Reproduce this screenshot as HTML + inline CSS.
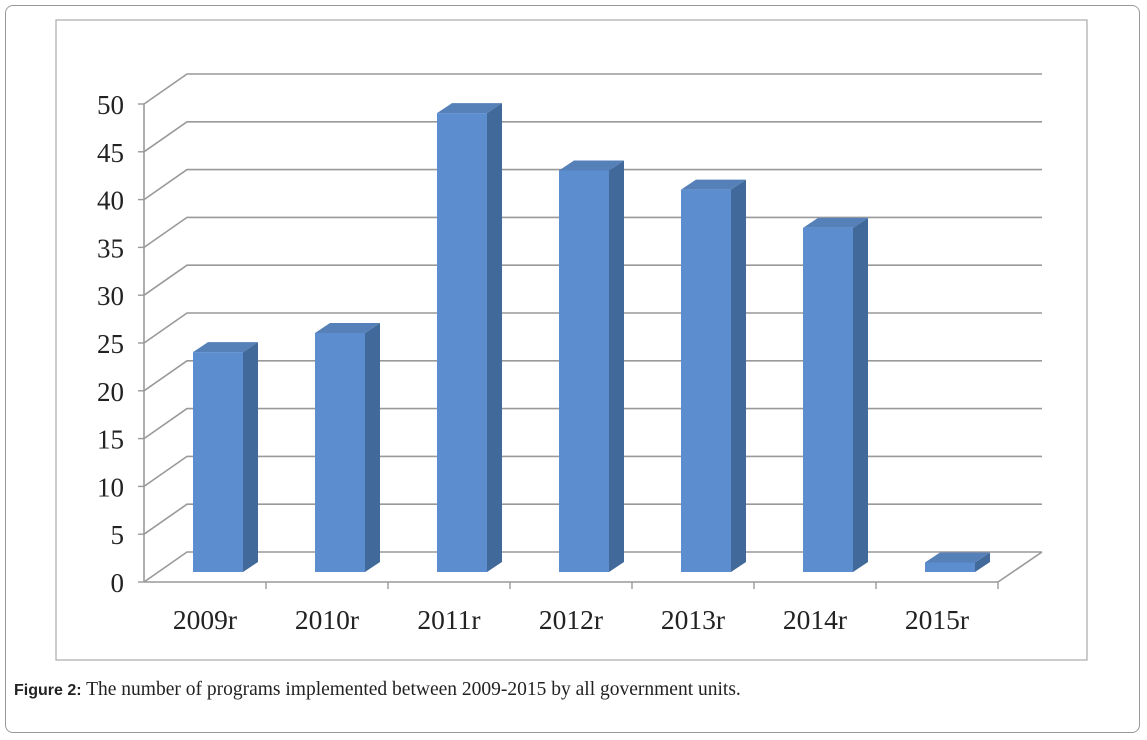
<!DOCTYPE html>
<html><head><meta charset="utf-8"><style>
body{margin:0;background:#fff;}
#outer{position:absolute;left:5px;top:5px;width:1133px;height:726px;border:1px solid #999;border-radius:8px;}
#cap{position:absolute;left:14px;top:679px;font:19.5px "Liberation Serif",serif;color:#222;}
#cap b{font-family:"Liberation Sans",sans-serif;font-weight:bold;font-size:16px;}
</style></head><body>
<div id="outer"></div>
<svg width="1147" height="740" style="position:absolute;left:0;top:0" id="chart">
<rect x="56" y="20" width="1031" height="640" fill="none" stroke="#aaa" stroke-width="1.2"/>
</svg>
<div id="cap"><b>Figure 2:</b> The number of programs implemented between 2009-2015 by all government units.</div>
<script>
const categories=["2009r","2010r","2011r","2012r","2013r","2014r","2015r"];
const values=[23,25,48,42,40,36,1];
const yTicks=[0,5,10,15,20,25,30,35,40,45,50];
const svg=document.getElementById('chart');
const NS='http://www.w3.org/2000/svg';
const x0=144,catW=122,yBase=582,pxU=9.56,DX=43,DY=-30;
const y=v=>yBase-v*pxU;
function mk(t,a){const e=document.createElementNS(NS,t);for(const k in a)e.setAttribute(k,a[k]);svg.appendChild(e);return e;}
const xEnd=x0+catW*categories.length;
yTicks.forEach(v=>{
 const l=mk('polyline',{points:`${x0},${y(v)} ${x0+DX},${y(v)+DY} 1042,${y(v)+DY}`,fill:'none',stroke:'#999','stroke-width':1.6});
 
 
 const tk=mk('line',{x1:x0-6,y1:y(v),x2:x0,y2:y(v),stroke:'#999','stroke-width':1.4});
 
 
 const t=mk('text',{x:x0-20,y:y(v)+10,'text-anchor':'end','font-family':'Liberation Serif, serif','font-size':27,fill:'#222'});
 t.textContent=v;
 
 
});
const f=mk('polyline',{points:`${x0},${yBase} ${xEnd},${yBase} 1042,${yBase+DY}`,fill:'none',stroke:'#999','stroke-width':1.6});


const ax=mk('line',{x1:x0,y1:y(50),x2:x0,y2:yBase,stroke:'#999','stroke-width':1.6});


categories.forEach((c,i)=>{
 const tx=x0+catW*(i+1);
 const tk=mk('line',{x1:tx,y1:yBase,x2:tx,y2:yBase+7,stroke:'#999','stroke-width':1.4});
 
 
 const bx=x0+catW*i+49,bw=50,bb=yBase-10,bt=bb-values[i]*pxU,dx=15,dy=-10;
 const g=document.createElementNS(NS,'g');svg.appendChild(g);
 
 
 const p=(pts,fill)=>{const e=document.createElementNS(NS,'polygon');e.setAttribute('points',pts);e.setAttribute('fill',fill);g.appendChild(e);};
 p(`${bx+bw},${bt} ${bx+bw+dx},${bt+dy} ${bx+bw+dx},${bb+dy} ${bx+bw},${bb}`,'#41699a');
 p(`${bx},${bt} ${bx+dx},${bt+dy} ${bx+bw+dx},${bt+dy} ${bx+bw},${bt}`,'#5580b8');
 p(`${bx},${bt} ${bx+bw},${bt} ${bx+bw},${bb} ${bx},${bb}`,'#5b8dcf');
 const t=mk('text',{x:x0+catW*i+61,y:yBase+47,'text-anchor':'middle','font-family':'Liberation Serif, serif','font-size':27.5,fill:'#222'});
 t.textContent=c;
 
 
});
</script>
</body></html>
